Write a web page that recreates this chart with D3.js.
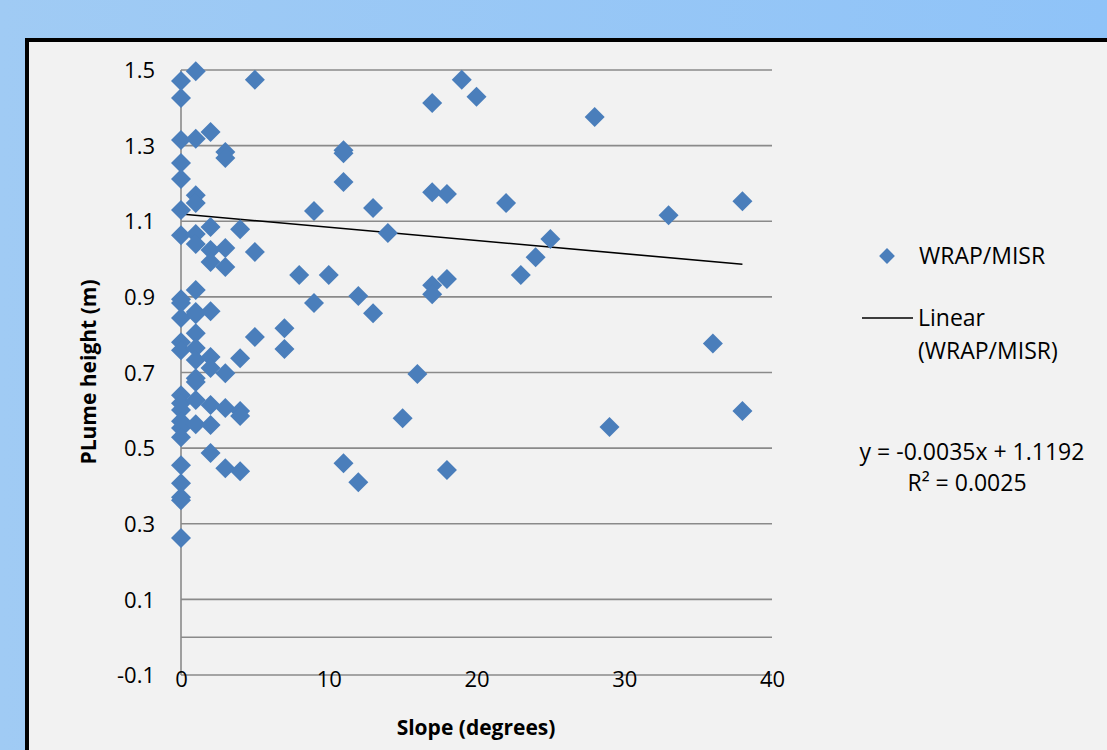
<!DOCTYPE html>
<html>
<head>
<meta charset="utf-8">
<script src="https://cdn.jsdelivr.net/npm/d3@7"></script>
<style>
  html, body { margin: 0; padding: 0; overflow: hidden; }
  svg { display: block; }
  text { font-family: "Open Sans", "Noto Sans", sans-serif; fill: #000; }
</style>
</head>
<body>
<svg id="chart" width="1107" height="750"></svg>
<script>
// ---- data ----
const slope = [
  0,0,0,0,0,0,0,0,0,0,0,0,0,0,0,0,0,0,0,0,0,0,0,
  1,1,1,1,1,1,1,1,1,1,1,1,1,1,1,1,
  2,2,2,2,2,2,2,2,2,2,
  3,3,3,3,3,3,3,
  4,4,4,4,4,
  5,5,5,
  7,7,
  8,
  9,9,
  10,
  11,11,11,11,
  12,12,
  13,13,
  14,
  15,
  16,
  17,17,17,17,
  18,18,18,
  19,
  20,
  22,
  23,
  24,
  25,
  28,
  29,
  33,
  36,
  38,38
];
const plumeHeight = [
  1.471,1.426,1.315,1.254,1.212,1.130,1.063,0.894,0.884,0.844,0.780,0.759,0.640,0.619,0.601,0.571,0.553,0.529,0.455,0.407,0.370,0.362,0.262,
  1.497,1.318,1.169,1.148,1.066,1.040,0.918,0.860,0.854,0.804,0.765,0.733,0.685,0.675,0.627,0.563,
  1.336,1.085,1.024,0.992,0.862,0.741,0.712,0.614,0.561,0.487,
  1.283,1.267,1.029,0.979,0.698,0.606,0.447,
  1.079,0.738,0.598,0.585,0.439,
  1.474,1.019,0.794,
  0.817,0.762,
  0.958,
  1.127,0.884,
  0.958,
  1.288,1.280,1.204,0.460,
  0.902,0.410,
  1.135,0.857,
  1.069,
  0.579,
  0.696,
  1.413,1.177,0.931,0.907,
  1.172,0.947,0.442,
  1.474,
  1.429,
  1.148,
  0.958,
  1.005,
  1.053,
  1.376,
  0.556,
  1.116,
  0.777,
  1.153,0.598
];
const xTicks = [0, 10, 20, 30, 40];
const yTicks = [-0.1, 0.1, 0.3, 0.5, 0.7, 0.9, 1.1, 1.3, 1.5];
const trendCoef = [-0.0035, 1.1192];
const seriesName = "WRAP/MISR";
const trendLabel = ["Linear", "(WRAP/MISR)"];
const equationText = ["y = -0.0035x + 1.1192", "R² = 0.0025"];
const xTitle = "Slope (degrees)";
const yTitle = "PLume height (m)";

// ---- drawing ----
const svg = d3.select("#chart");
const defs = svg.append("defs");
const grad = defs.append("linearGradient").attr("id", "bg").attr("x1", "0").attr("x2", "1").attr("y1", "0").attr("y2", "0");
grad.append("stop").attr("offset", "0").attr("stop-color", "#a0cbf4");
grad.append("stop").attr("offset", "1").attr("stop-color", "#8fc3f8");
svg.append("rect").attr("width", 1107).attr("height", 750).attr("fill", "url(#bg)");

// chart area with black frame
svg.append("rect").attr("x", 27).attr("y", 40).attr("width", 1200).attr("height", 800)
  .attr("fill", "#f2f2f2").attr("stroke", "#000").attr("stroke-width", 4);

const x = d3.scaleLinear().domain([0, 40]).range([181, 772]);
const y = d3.scaleLinear().domain([-0.1, 1.5]).range([675, 70]);

// gridlines
svg.append("g").selectAll("line").data(yTicks).join("line")
  .attr("x1", x(0)).attr("x2", x(40))
  .attr("y1", d => y(d)).attr("y2", d => y(d))
  .attr("stroke", "#8a8a8a").attr("stroke-width", 1.6);
// horizontal axis line (crosses at 0)
svg.append("line").attr("x1", x(0)).attr("x2", x(40)).attr("y1", y(0)).attr("y2", y(0))
  .attr("stroke", "#8a8a8a").attr("stroke-width", 1.6);
// vertical axis line
svg.append("line").attr("x1", x(0)).attr("x2", x(0)).attr("y1", y(1.5)).attr("y2", y(-0.1))
  .attr("stroke", "#8a8a8a").attr("stroke-width", 1.6);

const fmtY = d => d3.format(".1f")(d).replace("\u2212", "-");

// y tick labels
const yAxis = d3.axisLeft(y).tickValues(yTicks).tickSize(0).tickPadding(0).tickFormat(fmtY);
const gy = svg.append("g").attr("transform", "translate(155,0)").call(yAxis);
gy.select(".domain").remove();
gy.selectAll("text").attr("font-size", 22).attr("font-family", "Open Sans, sans-serif").attr("fill", "#000").attr("dy", "0.35em");

// x tick labels
const xAxis = d3.axisBottom(x).tickValues(xTicks).tickSize(0).tickPadding(0).tickFormat(d3.format("d"));
const gx = svg.append("g").attr("transform", "translate(0,671)").call(xAxis);
gx.select(".domain").remove();
gx.selectAll("text").attr("font-size", 22).attr("font-family", "Open Sans, sans-serif").attr("fill", "#000").attr("dy", "0.71em");

// axis titles
svg.append("text").attr("transform", "translate(96,372) rotate(-90)").attr("text-anchor", "middle")
  .attr("font-size", 21).attr("font-weight", "bold").text(yTitle);
svg.append("text").attr("x", 476).attr("y", 735).attr("text-anchor", "middle")
  .attr("font-size", 21).attr("font-weight", "bold").text(xTitle);

// trend line
const trendX = d3.extent(slope);
svg.append("line")
  .attr("x1", x(trendX[0])).attr("y1", y(trendCoef[0] * trendX[0] + trendCoef[1]))
  .attr("x2", x(trendX[1])).attr("y2", y(trendCoef[0] * trendX[1] + trendCoef[1]))
  .attr("stroke", "#000").attr("stroke-width", 1.6);

// points
const diamond = d3.symbol().type(d3.symbolSquare).size(200);
svg.append("g").selectAll("path").data(slope.map((s, i) => [s, plumeHeight[i]])).join("path")
  .attr("d", diamond)
  .attr("transform", d => `translate(${x(d[0])},${y(d[1])}) rotate(45)`)
  .attr("fill", "#4a7ebb");

// legend
const lg = svg.append("g");
lg.append("path").attr("d", d3.symbol().type(d3.symbolSquare).size(125))
  .attr("transform", "translate(887,256) rotate(45)").attr("fill", "#4a7ebb");
lg.append("text").attr("x", 919).attr("y", 256).attr("dy", "0.35em").attr("font-size", 23).text(seriesName);
lg.append("line").attr("x1", 862).attr("x2", 913).attr("y1", 318).attr("y2", 318).attr("stroke", "#000").attr("stroke-width", 1.6);
lg.append("text").attr("x", 918).attr("y", 318).attr("dy", "0.35em").attr("font-size", 23).text(trendLabel[0]);
lg.append("text").attr("x", 918).attr("y", 351).attr("dy", "0.35em").attr("font-size", 23).text(trendLabel[1]);

// equation
svg.append("text").attr("x", 972).attr("y", 452).attr("dy", "0.35em").attr("text-anchor", "middle").attr("font-size", 23).text(equationText[0]);
svg.append("text").attr("x", 967).attr("y", 483).attr("dy", "0.35em").attr("text-anchor", "middle").attr("font-size", 23).text(equationText[1]);
</script>
</body>
</html>
